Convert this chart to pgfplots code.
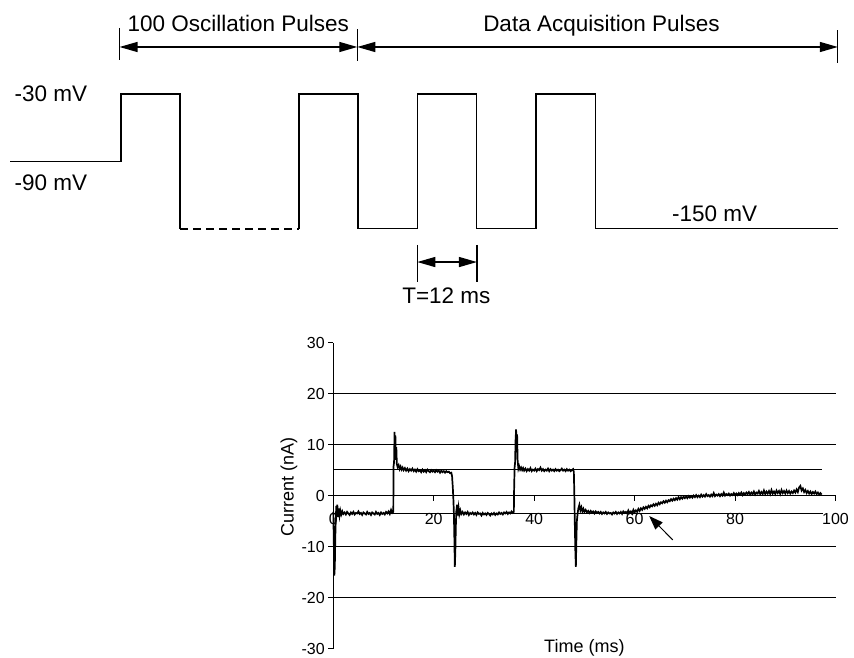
\documentclass[border=0pt]{standalone}
\usepackage{fontspec}
\setmainfont{Liberation Sans}
\usepackage{pgfplots}
\pgfplotsset{compat=1.18}
\usetikzlibrary{arrows.meta}

\tikzset{
  bigtip/.style={line width=1.3pt, {Triangle[length=18pt,width=10pt]}-{Triangle[length=18pt,width=10pt]}},
  toptext/.style={font=\fontsize{22.5}{27}\selectfont, anchor=base, inner sep=0pt},
}

\begin{document}
\begin{tikzpicture}
\useasboundingbox (0,0) rectangle (854pt,657pt);

% pulse protocol (time in ms, potential in mV)
\begin{axis}[
    at={(0pt,357pt)}, anchor=south west,
    width=854pt, height=300pt, scale only axis,
    xmin=-24.544, xmax=148.68, ymin=-213.53, ymax=53.74,
    hide axis, clip=false,
]
\addplot[black, line width=1.4pt] coordinates {
    (-22.5,-90) (0,-90) (0,-30) (12,-30) (12,-150)
};
\addplot[black, line width=1.7pt, dash pattern=on 8pt off 5pt] coordinates {
    (12,-150) (36.1,-150)
};
\addplot[black, line width=1.4pt] coordinates {
    (36.1,-150) (36.1,-30) (48.1,-30) (48.1,-150) (60.2,-150) (60.2,-30)
    (72.1,-30) (72.1,-150) (84.2,-150) (84.2,-30) (96.2,-30) (96.2,-150)
    (145.4,-150)
};
% brackets
\draw[line width=1.3pt] (axis cs:-0.3,28.8) -- (axis cs:-0.3,0.3);
\draw[line width=1.3pt] (axis cs:47.93,27.9) -- (axis cs:47.93,-0.6);
\draw[line width=1.3pt] (axis cs:145.4,27.0) -- (axis cs:145.4,-2.4);
\draw[bigtip] (axis cs:-0.3,11.87) -- (axis cs:47.93,11.87);
\draw[bigtip] (axis cs:47.93,11.87) -- (axis cs:145.4,11.87);
\draw[line width=1.3pt] (axis cs:60.1,-164.5) -- (axis cs:60.1,-197.5);
\draw[line width=1.3pt] (axis cs:72.2,-164.5) -- (axis cs:72.2,-197.5);
\draw[bigtip] (axis cs:60.1,-179.7) -- (axis cs:72.2,-179.7);
% labels
\node[toptext] at (axis cs:23.78,25.9) {100 Oscillation Pulses};
\node[toptext] at (axis cs:97.45,25.9) {Data Acquisition Pulses};
\node[toptext] at (axis cs:-14.2,-36.9) {-30 mV};
\node[toptext] at (axis cs:-14.2,-116.1) {-90 mV};
\node[toptext] at (axis cs:120.4,-143.8) {-150 mV};
\node[toptext] at (axis cs:66.0,-217.0) {T=12 ms};
\end{axis}

% recorded current
\begin{axis}[
    at={(333.3pt,8.5pt)}, anchor=south west,
    width=502.2pt, height=305.8pt, scale only axis,
    xmin=0, xmax=100, ymin=-30, ymax=30,
    axis x line=middle, axis y line=left,
    axis line style={-, line width=1pt},
    hide obscured x ticks=false, hide obscured y ticks=false,
    xtick={0,20,40,60,80,100}, xticklabels={0,20,40,60,80,100},
    ytick={-30,-20,-10,0,10,20,30}, yticklabels={-30,-20,-10,0,10,20,30},
    tick align=outside, major tick length=5pt,
    tick style={black, line width=0.8pt},
    tick label style={font=\fontsize{16}{18}\selectfont},
    xticklabel style={yshift=-9pt},
    xlabel={Time (ms)}, ylabel={Current (nA)},
    every axis x label/.style={at={(axis description cs:0.5,0.001)}, anchor=center, font=\fontsize{18}{21}\selectfont},
    every axis y label/.style={at={(axis description cs:-0.0882,0.527)}, rotate=90, anchor=center, font=\fontsize{18}{21}\selectfont},
    clip=false,
]
\draw[line width=1.2pt] (axis cs:0,20) -- (axis cs:100,20);
\draw[line width=1.2pt] (axis cs:0,10) -- (axis cs:100,10);
\draw[line width=1.2pt] (axis cs:0,-10) -- (axis cs:100,-10);
\draw[line width=1.2pt] (axis cs:0,-20) -- (axis cs:100,-20);
\draw[line width=1.2pt] (axis cs:0,5.2) -- (axis cs:97.3,5.2);
\draw[line width=1.2pt] (axis cs:0,-3.5) -- (axis cs:97.5,-3.5);
\addplot[black, line width=1.7pt] coordinates {
(0.00,-3.2) (0.10,-9.0) (0.20,-15.7) (0.30,-14.0) (0.40,-8.0) (0.50,-4.5) (0.60,-2.0) (0.70,-3.8) (0.80,-1.8) (0.95,-4.2)
(1.10,-2.5) (1.25,-3.9) (1.40,-2.9) (1.60,-3.7) (1.80,-3.1) (2.00,-3.6) (2.25,-3.3) (2.50,-3.7) (2.75,-3.2) (3.00,-3.5)
(3.25,-3.8) (3.50,-3.3) (3.75,-3.6) (4.00,-3.2) (4.25,-3.7) (4.50,-3.4) (4.75,-3.5) (5.00,-3.1) (5.25,-3.6) (5.50,-3.4)
(5.75,-3.8) (6.00,-3.3) (6.25,-3.5) (6.50,-3.7) (6.75,-3.2) (7.00,-3.6) (7.25,-3.4) (7.50,-3.8) (7.75,-3.3) (8.00,-3.5)
(8.25,-3.7) (8.50,-3.2) (8.75,-3.6) (9.00,-3.4) (9.25,-3.8) (9.50,-3.3) (9.75,-3.6) (10.00,-3.4) (10.25,-3.7) (10.50,-3.2)
(10.75,-3.5) (11.00,-3.1) (11.25,-3.6) (11.50,-2.8) (11.75,-3.4) (11.95,-3.2)
(12.00,5.8) (12.10,6.5) (12.20,12.5) (12.28,7.0) (12.36,11.8) (12.45,8.0) (12.55,9.5) (12.65,6.2) (12.80,5.6) (13.00,6.0)
(13.20,5.2) (13.40,5.7) (13.60,5.1) (13.80,5.5) (14.00,5.0) (14.25,5.4) (14.50,4.9) (14.75,5.3) (15.00,4.8) (15.25,5.2)
(15.50,4.9) (15.75,5.3) (16.00,4.8) (16.25,5.1) (16.50,4.7) (16.75,5.2) (17.00,4.8) (17.25,5.0) (17.50,4.6) (17.75,5.1)
(18.00,4.7) (18.25,5.0) (18.50,4.6) (18.75,5.1) (19.00,4.8) (19.25,4.6) (19.50,5.0) (19.75,4.7) (20.00,4.9) (20.25,4.6)
(20.50,5.0) (20.75,4.7) (21.00,4.9) (21.25,4.5) (21.50,4.9) (21.75,4.6) (22.00,4.8) (22.25,4.5) (22.50,4.8) (22.75,4.6)
(23.00,4.7) (23.25,4.4) (23.50,4.5) (23.65,3.8) (23.80,1.5) (23.90,-0.5) (24.00,-3.0) (24.10,-8.0) (24.20,-14.0) (24.30,-11.0)
(24.40,-6.0) (24.50,-3.0) (24.65,-1.8) (24.80,-3.9) (24.95,-2.4) (25.10,-3.7) (25.30,-2.9) (25.50,-3.6) (25.75,-3.2) (26.00,-3.7)
(26.25,-3.3) (26.50,-3.6) (26.75,-3.2) (27.00,-3.8) (27.25,-3.4) (27.50,-3.6) (27.75,-3.3) (28.00,-3.7) (28.25,-3.4) (28.50,-3.8)
(28.75,-3.3) (29.00,-3.6) (29.25,-3.5) (29.50,-3.9) (29.75,-3.4) (30.00,-3.7) (30.25,-3.5) (30.50,-3.8) (30.75,-3.4) (31.00,-3.6)
(31.25,-3.9) (31.50,-3.5) (31.75,-3.7) (32.00,-3.4) (32.25,-3.8) (32.50,-3.5) (32.75,-3.7) (33.00,-3.3) (33.25,-3.6) (33.50,-3.4)
(33.75,-3.7) (34.00,-3.3) (34.25,-3.5) (34.50,-3.2) (34.75,-3.6) (35.00,-3.3) (35.25,-3.5) (35.50,-3.1) (35.75,-3.4) (35.95,-3.2)
(36.00,1.0) (36.10,5.5) (36.20,6.5) (36.30,11.0) (36.40,13.0) (36.50,8.5) (36.60,12.0) (36.70,7.0) (36.85,5.3) (37.00,5.8)
(37.20,5.1) (37.40,5.5) (37.60,5.0) (37.80,5.4) (38.00,4.9) (38.25,5.3) (38.50,4.8) (38.75,5.2) (39.00,4.9) (39.25,5.4)
(39.50,4.8) (39.75,5.1) (40.00,4.9) (40.25,5.3) (40.50,4.8) (40.75,5.2) (41.00,5.0) (41.25,5.5) (41.50,4.9) (41.75,5.2)
(42.00,4.8) (42.25,5.1) (42.50,4.9) (42.75,5.3) (43.00,4.8) (43.25,5.2) (43.50,4.9) (43.75,5.1) (44.00,4.8) (44.25,5.2)
(44.50,4.9) (44.75,5.1) (45.00,4.8) (45.25,5.0) (45.50,5.3) (45.75,4.9) (46.00,5.1) (46.25,4.8) (46.50,5.2) (46.75,4.9)
(47.00,5.1) (47.25,4.8) (47.50,5.0) (47.75,5.2) (47.90,4.6) (48.00,0.0) (48.10,-6.0) (48.20,-11.0) (48.30,-14.0) (48.40,-9.0)
(48.50,-5.0) (48.65,-3.5) (48.80,-2.5) (49.00,-1.8) (49.20,-2.9) (49.40,-2.3) (49.60,-3.1) (49.80,-2.6) (50.00,-3.2) (50.25,-2.8)
(50.50,-3.3) (50.75,-3.0) (51.00,-3.4) (51.25,-3.0) (51.50,-3.3) (51.75,-3.1) (52.00,-3.5) (52.25,-3.1) (52.50,-3.4) (52.75,-3.2)
(53.00,-3.5) (53.25,-3.2) (53.50,-3.6) (53.75,-3.3) (54.00,-3.5) (54.25,-3.2) (54.50,-3.6) (54.75,-3.3) (55.00,-3.5) (55.25,-3.4)
(55.50,-3.7) (55.75,-3.3) (56.00,-3.5) (56.25,-3.2) (56.50,-3.6) (56.75,-3.3) (57.00,-3.5) (57.25,-3.2) (57.50,-3.6) (57.75,-3.1)
(58.00,-3.4) (58.25,-3.2) (58.50,-3.5) (58.75,-2.9) (59.00,-3.4) (59.25,-3.1) (59.50,-3.5) (59.75,-2.8) (60.00,-3.3) (60.25,-2.9)
(60.50,-3.2) (60.75,-2.6) (61.00,-3.0) (61.25,-2.5) (61.50,-2.8) (61.75,-2.3) (62.00,-2.6) (62.25,-2.2) (62.50,-2.5) (62.75,-2.0)
(63.00,-2.3) (63.25,-1.9) (63.50,-2.1) (63.75,-1.7) (64.00,-2.0) (64.25,-1.6) (64.50,-1.9) (64.75,-1.4) (65.00,-1.7) (65.25,-1.3)
(65.50,-1.5) (65.75,-1.1) (66.00,-1.4) (66.25,-1.0) (66.50,-1.3) (66.75,-0.9) (67.00,-1.1) (67.25,-0.7) (67.50,-1.0) (67.75,-0.6)
(68.00,-0.9) (68.25,-0.5) (68.50,-0.8) (68.75,-0.3) (69.00,-0.7) (69.25,-0.3) (69.50,-0.6) (69.75,-0.2) (70.00,-0.5) (70.25,-0.2)
(70.50,-0.5) (70.75,-0.1) (71.00,-0.4) (71.25,-0.1) (71.50,-0.4) (71.75,0.0) (72.00,-0.3) (72.25,0.1) (72.50,-0.3) (72.75,0.0)
(73.00,-0.3) (73.25,0.2) (73.50,-0.2) (73.75,0.1) (74.00,-0.2) (74.25,0.3) (74.50,-0.1) (74.75,0.1) (75.00,-0.2) (75.25,0.2)
(75.50,-0.1) (75.75,0.5) (76.00,-0.1) (76.25,0.2) (76.50,0.0) (76.75,0.3) (77.00,-0.1) (77.25,0.3) (77.50,0.0) (77.75,0.6)
(78.00,0.0) (78.25,0.3) (78.50,0.1) (78.75,0.4) (79.00,0.0) (79.25,0.3) (79.50,0.1) (79.75,0.5) (80.00,0.1) (80.25,0.4)
(80.50,0.1) (80.75,0.5) (81.00,0.2) (81.25,0.6) (81.50,0.1) (81.75,0.5) (82.00,0.2) (82.25,0.6) (82.50,0.3) (82.75,0.7)
(83.00,0.2) (83.25,0.6) (83.50,0.3) (83.75,0.8) (84.00,0.2) (84.25,0.6) (84.50,0.4) (84.75,0.9) (85.00,0.3) (85.25,0.7)
(85.50,0.3) (85.75,1.0) (86.00,0.3) (86.25,0.8) (86.50,0.4) (86.75,0.9) (87.00,0.3) (87.25,1.1) (87.50,0.4) (87.75,0.8)
(88.00,0.3) (88.25,1.0) (88.50,0.5) (88.75,0.9) (89.00,0.3) (89.25,1.1) (89.50,0.5) (89.75,0.9) (90.00,0.4) (90.25,1.0)
(90.50,0.5) (90.75,0.9) (91.00,0.4) (91.25,0.8) (91.50,0.5) (91.75,1.0) (92.00,0.6) (92.25,1.2) (92.50,0.7) (92.75,1.6)
(93.00,1.9) (93.25,1.0) (93.50,1.4) (93.75,0.7) (94.00,1.1) (94.25,0.5) (94.50,0.9) (94.75,0.4) (95.00,0.8) (95.25,0.3)
(95.50,0.7) (95.75,0.4) (96.00,0.8) (96.25,0.3) (96.50,0.6) (96.75,0.2) (97.00,0.5) (97.25,0.2)
};
\draw[line width=1pt, -{Triangle[length=14pt,width=10pt]}] (axis cs:67.6,-8.7) -- (axis cs:62.9,-4.0);
\end{axis}
\end{tikzpicture}
\end{document}
